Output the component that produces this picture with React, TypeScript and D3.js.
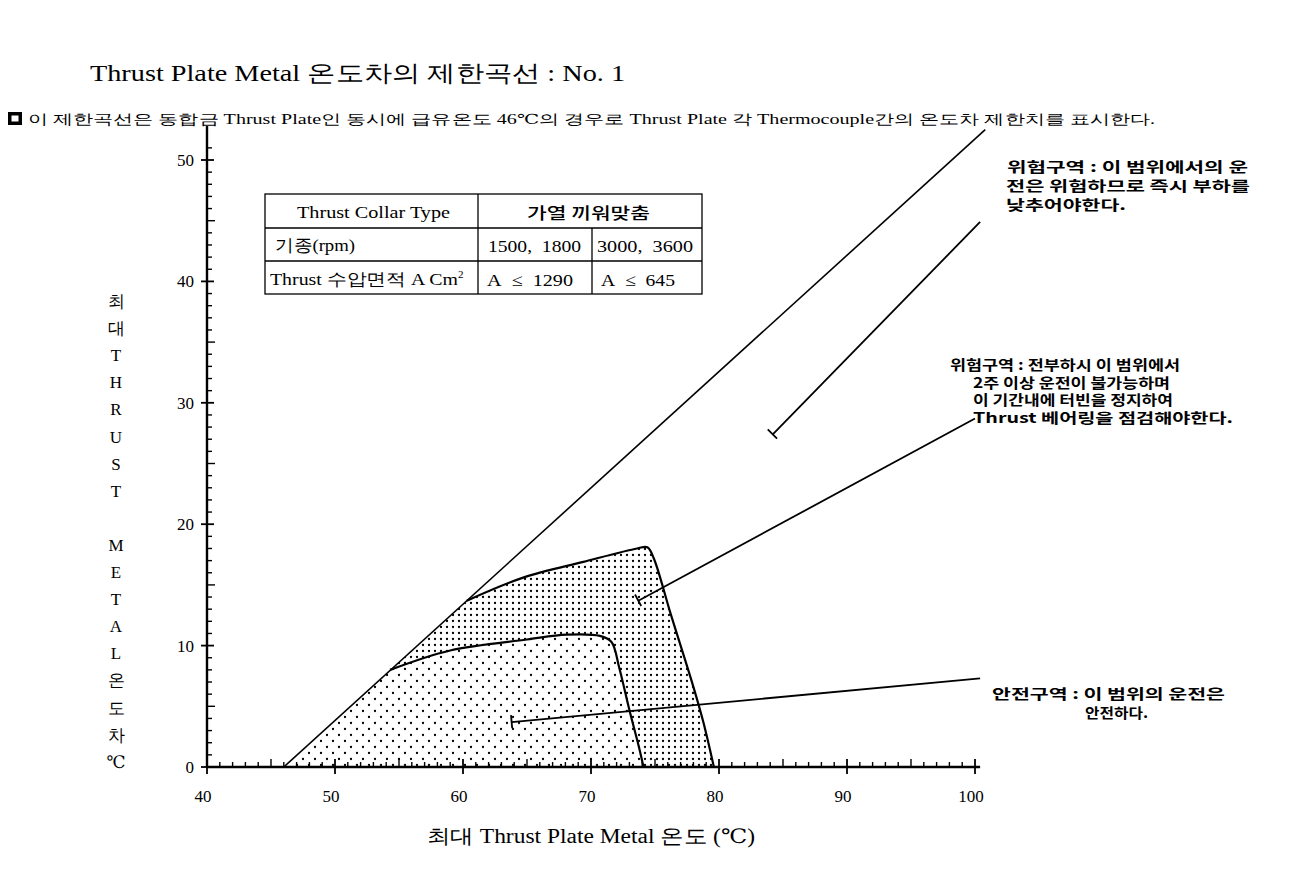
import * as d3 from "d3";

const W = 1301;
const H = 873;

const TITLE = "Thrust Plate Metal 온도차의 제한곡선 : No. 1";
const SUBTITLE =
  "이 제한곡선은 동합금 Thrust Plate인 동시에 급유온도 46℃의 경우로 Thrust Plate 각 Thermocouple간의 온도차 제한치를 표시한다.";
const X_TITLE = "최대 Thrust Plate Metal 온도 (℃)";
const Y_TITLE = ["최", "대", "T", "H", "R", "U", "S", "T", "", "M", "E", "T", "A", "L", "온", "도", "차", "℃"];

const X_TICKS = [40, 50, 60, 70, 80, 90, 100];
const Y_TICKS = [0, 10, 20, 30, 40, 50];

// limit line (upper diagonal)
const DIAGONAL: [number, number][] = [
  [46, 0],
  [100.8, 52.5],
];

// outer boundary (2 week limit)
const OUTER: [number, number][] = [
  [60.3, 13.7],
  [64.7, 15.6],
  [69.4, 16.9],
  [73.6, 18.0],
  [74.4, 18.1],
  [74.9, 17.2],
  [76.2, 12.7],
  [78.0, 6.6],
  [78.8, 3.6],
  [79.6, 0],
];

// inner boundary (safe area)
const INNER: [number, number][] = [
  [54.3, 8.0],
  [59.0, 9.6],
  [65.0, 10.5],
  [68.1, 10.9],
  [70.7, 10.8],
  [71.6, 10.3],
  [72.2, 8.2],
  [73.0, 4.7],
  [73.8, 1.4],
  [74.1, 0],
];

const LEADERS: { from: [number, number]; to: [number, number] }[] = [
  { from: [100.4, 44.9], to: [84.2, 27.4] },
  { from: [100.0, 28.7], to: [73.7, 13.7] },
  { from: [100.4, 7.3], to: [63.8, 3.7] },
];

type NoteLine = { dx: number; t: string; w: number };
const NOTES: { x: number; y: number; gap: number; lines: NoteLine[] }[] = [
  {
    x: 1007,
    y: 172,
    gap: 19,
    lines: [
      { dx: 0, t: "위험구역 : 이 범위에서의 운", w: 241 },
      { dx: -1, t: "전은 위험하므로 즉시 부하를", w: 244 },
      { dx: -1, t: "낮추어야한다.", w: 120 },
    ],
  },
  {
    x: 950,
    y: 370,
    gap: 17.5,
    lines: [
      { dx: 0, t: "위험구역 : 전부하시 이 범위에서", w: 230 },
      { dx: 23, t: "2주 이상 운전이 불가능하며", w: 197 },
      { dx: 23, t: "이 기간내에 터빈을 정지하여", w: 200 },
      { dx: 23, t: "Thrust 베어링을 점검해야한다.", w: 260 },
    ],
  },
  {
    x: 992,
    y: 699,
    gap: 19,
    lines: [
      { dx: 0, t: "안전구역 : 이 범위의 운전은", w: 233 },
      { dx: 93, t: "안전하다.", w: 63 },
    ],
  },
];

const x = d3.scaleLinear().domain([40, 100]).range([207, 975]);
const y = d3.scaleLinear().domain([0, 50]).range([767, 160]);

const SERIF = "'Liberation Serif', 'DejaVu Serif', serif";
const GOTHIC = "'Noto Sans CJK KR', 'Noto Sans', sans-serif";

export default function App() {
  const line = d3
    .line<[number, number]>()
    .x((d) => x(d[0]))
    .y((d) => y(d[1]));
  const curve = d3
    .line<[number, number]>()
    .x((d) => x(d[0]))
    .y((d) => y(d[1]))
    .curve(d3.curveCatmullRom.alpha(0.5));

  const closed = (pts: [number, number][]) =>
    `M${x(46)},${y(0)}L${x(pts[0][0])},${y(pts[0][1])}` +
    curve(pts)!.replace(/^M[^CL]*/, "") +
    `L${x(46)},${y(0)}Z`;
  const outerArea = closed(OUTER);
  const innerArea = closed(INNER);

  const xMinor = d3.range(41, 101).filter((v) => v % 10 !== 0);
  const yMinor = d3.range(1, 52).filter((v) => v % 10 !== 0);

  return (
    <div style={{ position: "absolute", left: 0, top: 0 }}>
      <svg width={W} height={H} style={{ display: "block", background: "#fff" }}>
        <defs>
          <pattern id="dense" width={6} height={6} patternUnits="userSpaceOnUse">
            <circle cx={3} cy={3} r={1.15} fill="#000" />
          </pattern>
          <pattern id="sparse" width={12} height={12} patternUnits="userSpaceOnUse">
            <circle cx={3} cy={3} r={1.15} fill="#000" />
            <circle cx={9} cy={9} r={1.15} fill="#000" />
          </pattern>
        </defs>

        {/* title */}
        <text x={90} y={81} fontFamily={SERIF} fontSize={23} textLength={535} lengthAdjust="spacingAndGlyphs">
          {TITLE}
        </text>
        <rect x={8} y={112} width={14} height={13} fill="#000" />
        <rect x={11.5} y={115.5} width={7} height={6} fill="#fff" />
        <text x={28} y={124} fontFamily={SERIF} fontSize={14} textLength={1127} lengthAdjust="spacingAndGlyphs">
          {SUBTITLE}
        </text>

        {/* shaded regions */}
        <path d={outerArea} fill="url(#dense)" />
        <path d={innerArea} fill="#fff" />
        <path d={innerArea} fill="url(#sparse)" />

        {/* curves */}
        <path d={line(DIAGONAL)!} fill="none" stroke="#000" strokeWidth={1.6} />
        <path d={curve(OUTER)!} fill="none" stroke="#000" strokeWidth={2.2} />
        <path d={curve(INNER)!} fill="none" stroke="#000" strokeWidth={2.2} />

        {/* leaders */}
        {LEADERS.map((l, i) => {
          const x1 = x(l.from[0]);
          const y1 = y(l.from[1]);
          const x2 = x(l.to[0]);
          const y2 = y(l.to[1]);
          const len = Math.hypot(x2 - x1, y2 - y1);
          const nx = -(y2 - y1) / len;
          const ny = (x2 - x1) / len;
          return (
            <g key={i} stroke="#000" strokeWidth={1.8}>
              <line x1={x1} y1={y1} x2={x2} y2={y2} />
              <line x1={x2 - nx * 6} y1={y2 - ny * 6} x2={x2 + nx * 7} y2={y2 + ny * 7} />
            </g>
          );
        })}

        {/* axes */}
        <g stroke="#000">
          <line x1={x(40)} y1={y(0)} x2={x(100.4)} y2={y(0)} strokeWidth={2.4} />
          <line x1={x(40)} y1={y(0)} x2={x(40)} y2={y(52.8)} strokeWidth={2.4} />
          {xMinor.map((v) => (
            <line key={"xm" + v} x1={x(v)} x2={x(v)} y1={y(0)} y2={y(0) - (v % 5 === 0 ? 8 : 5)} strokeWidth={1.4} />
          ))}
          {X_TICKS.map((v) => (
            <line key={"xM" + v} x1={x(v)} x2={x(v)} y1={y(0) - 8} y2={y(0) + 7} strokeWidth={1.8} />
          ))}
          {yMinor.map((v) => (
            <line key={"ym" + v} x1={x(40)} x2={x(40) + (v % 5 === 0 ? 8 : 5)} y1={y(v)} y2={y(v)} strokeWidth={1.4} />
          ))}
          {Y_TICKS.map((v) => (
            <line key={"yM" + v} x1={x(40) - 6} x2={x(40) + 7} y1={y(v)} y2={y(v)} strokeWidth={1.8} />
          ))}
        </g>
        <g fontFamily={SERIF} fontSize={17}>
          {X_TICKS.map((v) => (
            <text key={"xl" + v} x={x(v) - 4} y={802} textAnchor="middle">
              {v}
            </text>
          ))}
          {Y_TICKS.map((v) => (
            <text key={"yl" + v} x={x(40) - 13} y={y(v) + 6} textAnchor="end">
              {v}
            </text>
          ))}
        </g>

        {/* axis titles */}
        <text x={427} y={843} fontFamily={SERIF} fontSize={20} textLength={328} lengthAdjust="spacingAndGlyphs">
          {X_TITLE}
        </text>
        <g fontFamily={SERIF} fontSize={17} textAnchor="middle">
          {Y_TITLE.map((c, i) => (
            <text key={i} x={116} y={307 + i * 27.1}>
              {c}
            </text>
          ))}
        </g>

        {/* table */}
        <g stroke="#000" strokeWidth={1.3} fill="none">
          <rect x={265} y={194} width={437} height={100} />
          <line x1={265} x2={702} y1={228} y2={228} />
          <line x1={265} x2={702} y1={261} y2={261} />
          <line x1={478} x2={478} y1={194} y2={294} />
          <line x1={592} x2={592} y1={228} y2={294} />
        </g>
        <g fontFamily={SERIF} fontSize={17}>
          <text x={297} y={218} textLength={153} lengthAdjust="spacingAndGlyphs">Thrust Collar Type</text>
          <text x={527} y={219} fontFamily={GOTHIC} fontWeight={500} fontSize={16} textLength={123} lengthAdjust="spacingAndGlyphs">
            가열 끼워맞춤
          </text>
          <text x={275} y={251} textLength={80} lengthAdjust="spacingAndGlyphs">기종(rpm)</text>
          <text x={488} y={252} textLength={93} lengthAdjust="spacingAndGlyphs">1500,&#160;&#160;1800</text>
          <text x={597} y={252} textLength={96} lengthAdjust="spacingAndGlyphs">3000,&#160;&#160;3600</text>
          <text x={270} y={285}>
            <tspan textLength={188} lengthAdjust="spacingAndGlyphs">Thrust 수압면적 A Cm</tspan>
            <tspan dy={-7} fontSize={11}>2</tspan>
          </text>
          <text x={487} y={286} textLength={86} lengthAdjust="spacingAndGlyphs">A&#160;&#160;≤&#160;&#160;1290</text>
          <text x={601} y={286} textLength={74} lengthAdjust="spacingAndGlyphs">A&#160;&#160;≤&#160;&#160;645</text>
        </g>

        {/* zone notes */}
        <g fontFamily={GOTHIC} fontSize={14} fontWeight={700}>
          {NOTES.map((n, i) =>
            n.lines.map((l, j) => (
              <text
                key={i + "-" + j}
                x={n.x + l.dx}
                y={n.y + j * n.gap}
                textLength={l.w}
                lengthAdjust="spacingAndGlyphs"
              >
                {l.t}
              </text>
            ))
          )}
        </g>
      </svg>
    </div>
  );
}
